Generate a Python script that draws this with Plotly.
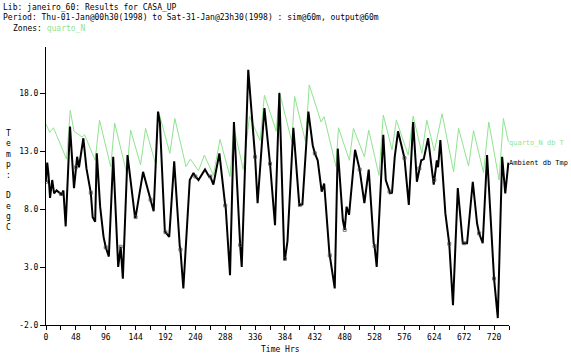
import plotly.graph_objects as go

# ---- data ----
amb_hours = [0, 2, 4, 6.5, 10, 13, 17, 21, 24, 25, 28, 31.6, 38.6, 45, 48, 50, 53, 60, 65, 71, 72, 75, 79,
             81.6, 87, 92.5, 96, 101, 108, 116, 120, 123.5, 131, 143, 144, 156, 168, 173, 180, 183, 191, 192,
             198, 206, 215, 216, 220.7, 231, 237, 240, 245, 255.5, 262, 264, 269, 278.6, 288, 288.7, 295.7,
             302, 312, 314.5, 325, 336, 340, 351, 360, 368, 375, 383, 384, 388, 397.5, 407, 408, 412, 421.6,
             428.6, 432, 436.6, 443, 447, 455.4, 456, 464, 468.8, 477, 480, 483, 487, 496.6, 503.6, 504,
             511.6, 518.6, 526.6, 528, 531.4, 542, 546, 552, 553, 556, 560.4, 565.7, 575, 576, 583, 590, 596,
             600, 603, 607, 614, 623, 624, 628, 630, 633.7, 641.8, 647, 648, 654, 661.7, 669.7, 672, 676.6,
             685.8, 692.7, 696, 701.8, 708.8, 719.5, 720, 726, 733, 738, 743]
amb_temp = [10.35, 12.0, 11.0, 8.95, 10.5, 9.35, 9.6, 9.45, 9.3, 9.2, 9.6, 6.5, 15.1, 9.8, 11.6, 12.5, 11.6,
            14.1, 11.5, 9.6, 9.4, 7.3, 6.9, 12.8, 8.2, 5.6, 4.7, 3.9, 12.5, 3.0, 4.75, 2.0, 12.65, 7.3, 7.3,
            11.2, 8.8, 7.8, 16.4, 15.5, 6.05, 6.0, 5.6, 12.1, 4.75, 4.5, 1.15, 10.5, 11.1, 10.8, 10.5, 11.4,
            10.8, 10.8, 10.1, 12.8, 8.3, 8.2, 2.3, 15.5, 4.9, 3.0, 20.0, 12.5, 8.5, 16.7, 11.9, 6.6, 18.0,
            3.6, 3.7, 5.2, 15.0, 8.35, 8.35, 8.4, 16.4, 13.5, 12.8, 12.2, 9.5, 10.2, 4.2, 4.0, 1.15, 13.2,
            7.05, 6.2, 8.2, 7.5, 13.1, 11.5, 11.4, 8.5, 11.4, 5.05, 4.8, 3.0, 14.4, 10.5, 9.5, 9.35, 9.4,
            12.5, 14.7, 12.65, 12.4, 8.35, 15.5, 10.35, 11.5, 12.2, 12.3, 14.1, 10.1, 10.5, 12.2, 11.6, 13.95,
            7.6, 5.2, 5.0, -0.3, 9.8, 5.05, 5.05, 5.05, 10.35, 6.75, 5.9, 5.05, 12.65, 2.3, 2.0, -1.4, 12.5,
            9.35, 12.0]

zone_hours = [0, 6, 12, 33, 39, 45, 58, 62, 79, 86, 104, 110.4, 129.6, 136, 152, 160, 176, 181, 199, 207,
              225, 232, 245, 254.5, 269, 279.6, 295.7, 302, 317, 327, 344, 351, 370, 375, 395, 399.5, 417,
              423, 442, 447, 466, 470, 487.5, 494, 511.6, 518.6, 535, 542, 556, 563, 582, 590, 604, 612,
              624, 636.5, 655, 663, 679, 687, 703, 711.5, 728, 735, 743]
zone_temp = [15.3, 14.6, 15.0, 12.3, 16.5, 14.7, 14.2, 14.4, 12.2, 15.65, 11.65, 15.4, 11.1, 14.8, 11.8,
             14.95, 11.9, 16.4, 12.8, 15.8, 11.65, 12.3, 11.3, 12.65, 10.9, 14.0, 10.8, 15.0, 11.4, 16.0,
             13.9, 17.8, 14.7, 18.1, 13.8, 17.7, 13.8, 18.7, 15.5, 15.95, 11.65, 15.0, 12.2, 14.95, 12.5,
             14.8, 10.9, 16.1, 13.1, 15.65, 12.65, 16.0, 12.8, 15.65, 13.0, 16.2, 11.2, 14.95, 11.7, 14.75,
             11.15, 15.5, 10.5, 15.8, 13.8]

x_ticks = [0, 48, 96, 144, 192, 240, 288, 336, 384, 432, 480, 528, 576, 624, 672, 720]
y_ticks = [-2.0, 3.0, 8.0, 13.0, 18.0]

series_labels = ["quarto_N db T", "Ambient db Tmp"]
header_lines = ["Lib: janeiro_60: Results for CASA_UP",
                "Period: Thu-01-Jan@00h30(1998) to Sat-31-Jan@23h30(1998) : sim@60m, output@60m"]
zone_name = "quarto_N"
y_title = "Temp: DegC"
x_title = "Time Hrs"

# ---- layout constants ----
W, H = 571, 354
L, R, T, B = 46, 62, 47, 29
PW, PH = W - L - R, H - T - B
FONT = "DejaVu Sans Mono"
GREEN = "#8fe48f"


def px(x):
    return (x - L) / PW


def py(y):
    return (H - B - y) / PH


marker_sizes = [3 if (h % 24 == 0) else 0 for h in amb_hours]

fig = go.Figure()
fig.add_trace(go.Scatter(x=zone_hours, y=zone_temp, mode="lines",
                         line=dict(color=GREEN, width=1), name=series_labels[0],
                         showlegend=False))
fig.add_trace(go.Scatter(x=amb_hours, y=amb_temp, mode="lines+markers",
                         line=dict(color="black", width=2),
                         marker=dict(symbol="square-open", size=marker_sizes, color="#444444",
                                     line=dict(width=1)),
                         name=series_labels[1], showlegend=False))

anns = []
anns.append(dict(x=px(1), y=py(7), xref="paper", yref="paper", text=header_lines[0],
                 xanchor="left", yanchor="middle", showarrow=False,
                 font=dict(family=FONT, size=8, color="black")))
anns.append(dict(x=px(1), y=py(18), xref="paper", yref="paper", text=header_lines[1],
                 xanchor="left", yanchor="middle", showarrow=False,
                 font=dict(family=FONT, size=8, color="black")))
anns.append(dict(x=px(11), y=py(29), xref="paper", yref="paper",
                 text="Zones: <span style='color:%s'>%s</span>" % (GREEN, zone_name),
                 xanchor="left", yanchor="middle", showarrow=False,
                 font=dict(family=FONT, size=8, color="black")))
anns.append(dict(x=px(8), y=py(180), xref="paper", yref="paper",
                 text="<br>".join(c if c != " " else "&nbsp;" for c in y_title),
                 xanchor="center", yanchor="middle", showarrow=False,
                 font=dict(family=FONT, size=8, color="black")))
anns.append(dict(x=px(280), y=py(349), xref="paper", yref="paper", text=x_title,
                 xanchor="center", yanchor="middle", showarrow=False,
                 font=dict(family=FONT, size=8, color="black")))
anns.append(dict(x=px(507), y=py(143), xref="paper", yref="paper", text=series_labels[0],
                 xanchor="left", yanchor="middle", showarrow=False,
                 font=dict(family=FONT, size=7, color=GREEN)))
anns.append(dict(x=px(507), y=py(163), xref="paper", yref="paper", text=series_labels[1],
                 xanchor="left", yanchor="middle", showarrow=False,
                 font=dict(family=FONT, size=7, color="black")))

fig.update_layout(
    width=W, height=H,
    margin=dict(l=L, r=R, t=T, b=B, pad=0),
    paper_bgcolor="white", plot_bgcolor="white",
    annotations=anns,
    xaxis=dict(range=[0, 744], showgrid=False, zeroline=False, showline=True,
               linecolor="black", linewidth=1, ticks="outside", ticklen=4,
               tickcolor="black", tickwidth=1,
               tickvals=x_ticks, ticktext=[str(v) for v in x_ticks],
               tickfont=dict(family=FONT, size=8, color="black"),
               minor=dict(tickmode="linear", tick0=24, dtick=48, ticks="outside",
                          ticklen=4, tickcolor="black", tickwidth=1, showgrid=False)),
    yaxis=dict(range=[-2, -2 + PH / 11.6], showgrid=False, zeroline=False, showline=True,
               linecolor="black", linewidth=1, ticks="outside", ticklen=5,
               tickcolor="black", tickwidth=1,
               tickvals=y_ticks, ticktext=["%.1f" % v for v in y_ticks],
               tickfont=dict(family=FONT, size=8, color="black")),
)

fig.write_html("out.html")
